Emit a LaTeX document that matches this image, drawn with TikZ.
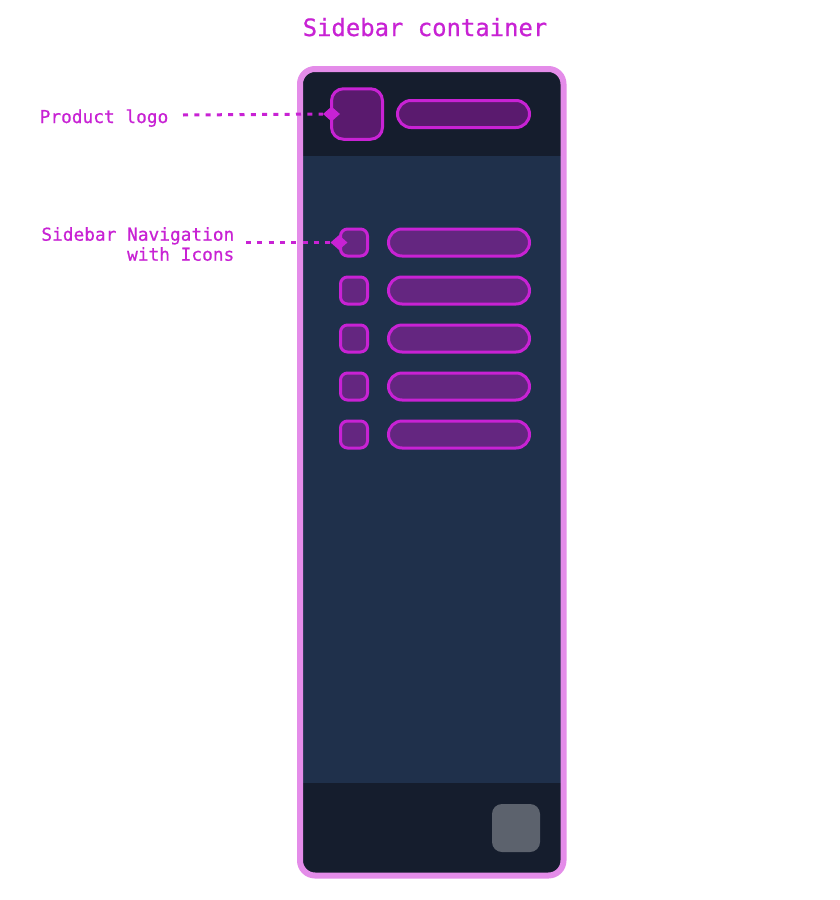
\documentclass[tikz,border=0pt]{standalone}
\usepackage{fontspec}
\newfontfamily\monofnt{DejaVu Sans Mono}[FakeBold=0.6]
\usetikzlibrary{shapes.geometric}
\definecolor{mag}{HTML}{C822D4}
\definecolor{bordercol}{HTML}{E48CE9}
\definecolor{headcol}{HTML}{151D2D}
\definecolor{bodycol}{HTML}{1F304B}
\definecolor{logofill}{HTML}{5A1A6E}
\definecolor{navfill}{HTML}{642680}
\definecolor{btngray}{HTML}{5C626D}
\tikzset{
  ttl/.style={font=\fontsize{23.9}{28}\monofnt, text=mag, inner sep=0pt},
  lbl/.style={font=\fontsize{17.8}{20}\monofnt, text=mag, inner sep=0pt},
  logobox/.style={draw=mag, line width=3pt, fill=logofill, rounded corners=12pt, minimum width=51pt, minimum height=50.5pt, inner sep=0pt},
  headpill/.style={draw=mag, line width=3pt, fill=logofill, rounded corners=13.5pt, minimum width=132pt, minimum height=27pt, inner sep=0pt},
  navicon/.style={draw=mag, line width=3pt, fill=navfill, rounded corners=7pt, minimum width=27pt, minimum height=27pt, inner sep=0pt},
  navpill/.style={draw=mag, line width=3pt, fill=navfill, rounded corners=13.5pt, minimum width=141pt, minimum height=27pt, inner sep=0pt},
  footbtn/.style={fill=btngray, rounded corners=10pt, minimum width=48pt, minimum height=48pt, inner sep=0pt},
  marker/.style={diamond, fill=mag, minimum width=17pt, minimum height=15pt, inner sep=0pt},
  conn/.style={draw=mag, line width=3pt, dash pattern=on 5pt off 6.3pt}
}
\begin{document}
\begin{tikzpicture}[x=1pt,y=-1pt]
\useasboundingbox (0,0) rectangle (840,900);
\fill[white] (0,0) rectangle (840,900);
% sidebar container
\fill[bodycol, rounded corners=15pt] (300,69) rectangle (563.5,875.5);
\begin{scope}
  \clip[rounded corners=15pt] (300,69) rectangle (563.5,875.5);
  \fill[headcol] (300,69) rectangle (563.5,156);
  \fill[headcol] (300,783) rectangle (563.5,875.5);
\end{scope}
\draw[bordercol, line width=6pt, rounded corners=15pt] (300,69) rectangle (563.5,875.5);
% title
\node[ttl, anchor=base] (title) at (425,36) {Sidebar container};
% header
\node[logobox] (logo) at (357,114) {};
\node[headpill] (hpill) at (463.5,114) {};
% nav rows
\foreach \i in {0,...,4} {
  \node[navicon] (navicon\i) at (354,{242.5+48*\i}) {};
  \node[navpill] (navpill\i) at (459,{242.5+48*\i}) {};
}
% footer button
\node[footbtn] (fbtn) at (516,828) {};
% labels
\node[lbl, anchor=base west] (logolbl) at (39.5,123) {Product logo};
\node[lbl, anchor=base east, align=right] (navlbl) at (234.5,260.7) {Sidebar Navigation\\with Icons};
% markers and connectors
\node[marker] (d1) at ([xshift=1.5pt]logo.west) {};
\node[marker] (d2) at (navicon0.west) {};
\coordinate (s1) at (183,115);
\coordinate (s2) at (246,242.5);
\draw[conn] (s1) -- (d1);
\draw[conn] (s2) -- (d2);
\end{tikzpicture}
\end{document}
